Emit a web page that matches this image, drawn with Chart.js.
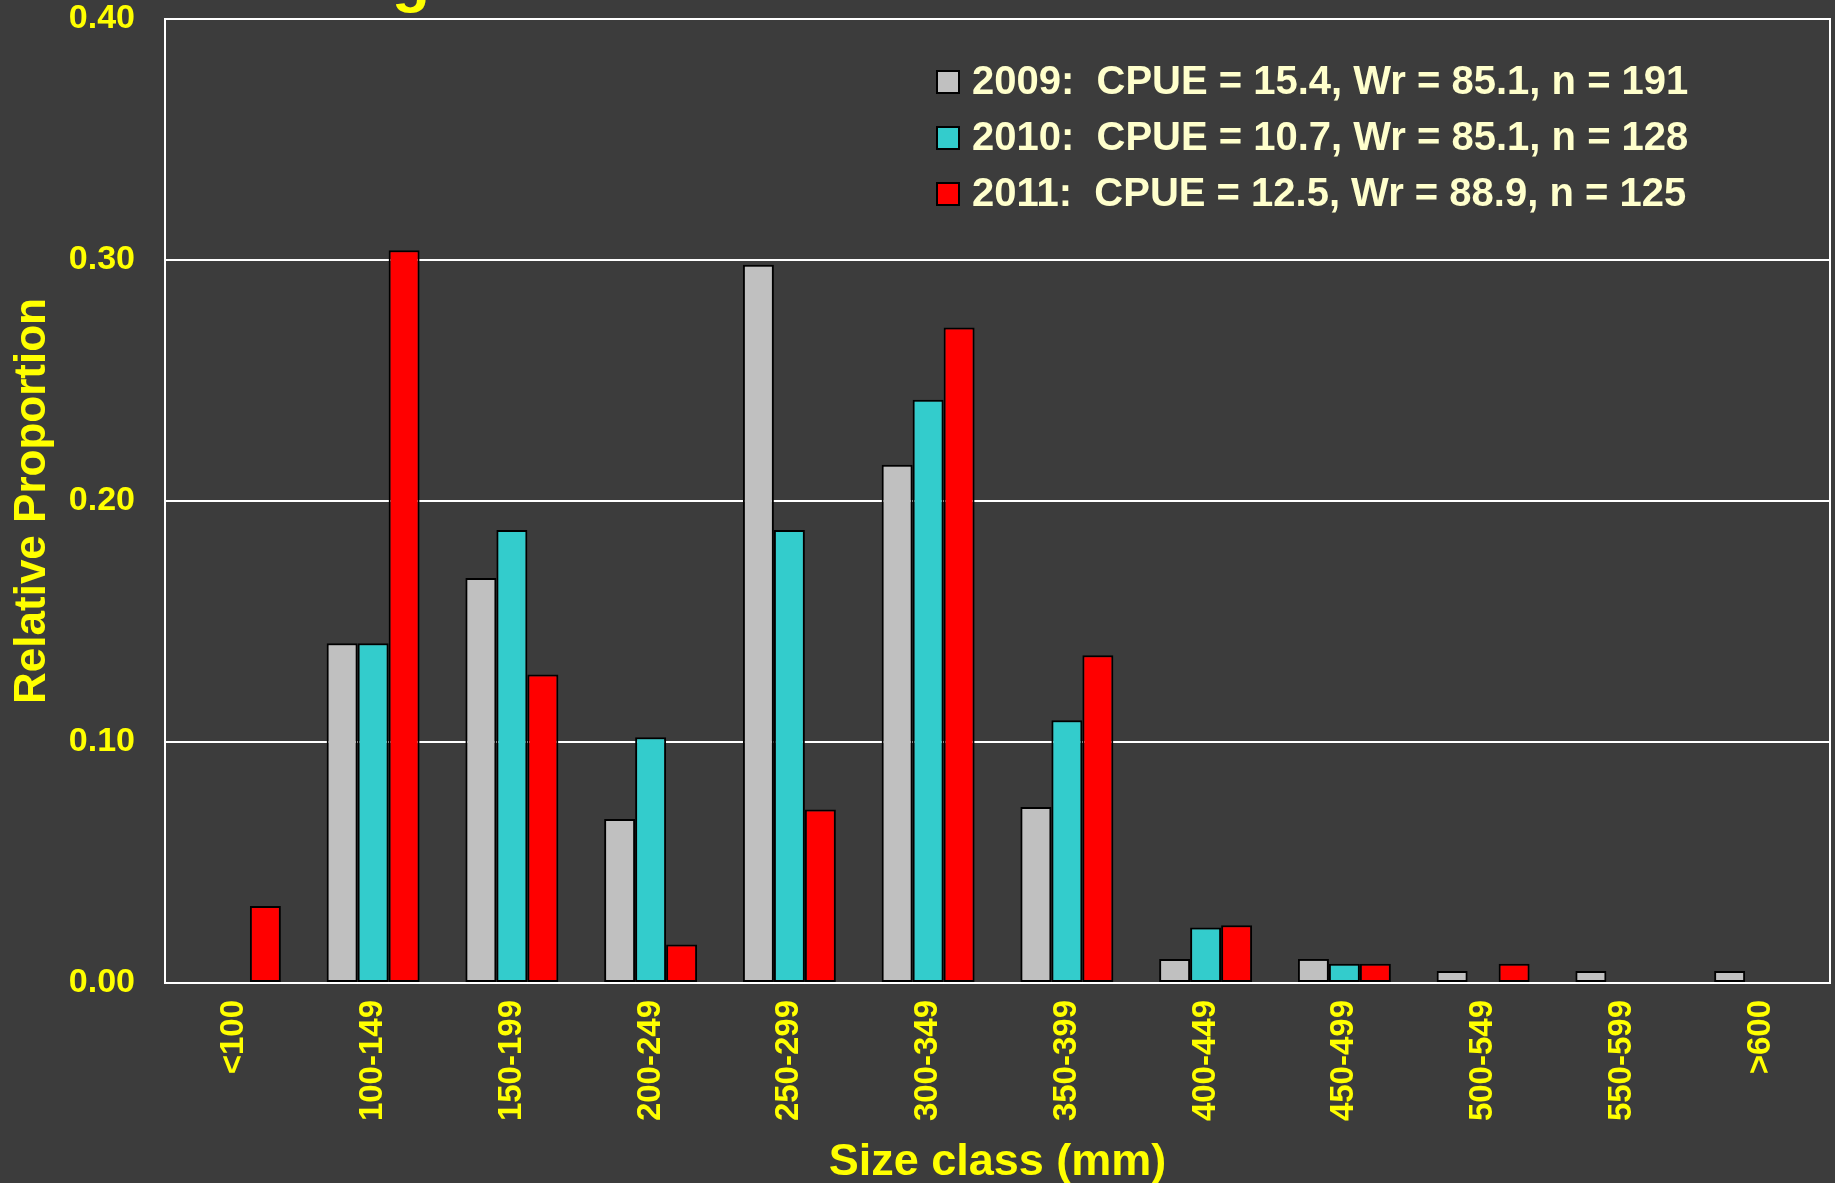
<!DOCTYPE html>
<html>
<head>
<meta charset="utf-8">
<script src="https://cdn.jsdelivr.net/npm/chart.js@4.4.1/dist/chart.umd.min.js"></script>
<style>
  html, body { margin: 0; padding: 0; background: #3c3c3c; }
  #wrap { width: 1835px; height: 1183px; position: relative; }
</style>
</head>
<body>
<div id="wrap"><canvas id="c"></canvas></div>
<script>
// size classes (mm)
var sizeClasses = ["<100", "100-149", "150-199", "200-249", "250-299", "300-349",
  "350-399", "400-449", "450-499", "500-549", "550-599", ">600"];

// relative proportion per size class
var prop2009 = [null, 0.141, 0.168, 0.068, 0.298, 0.215, 0.073, 0.010, 0.010, 0.005, 0.005, 0.005];
var prop2010 = [null, 0.141, 0.188, 0.102, 0.188, 0.242, 0.109, 0.023, 0.008, null, null, null];
var prop2011 = [0.032, 0.304, 0.128, 0.016, 0.072, 0.272, 0.136, 0.024, 0.008, 0.008, null, null];

var seriesLabels = [
  "2009:  CPUE = 15.4, Wr = 85.1, n = 191",
  "2010:  CPUE = 10.7, Wr = 85.1, n = 128",
  "2011:  CPUE = 12.5, Wr = 88.9, n = 125"
];
var yTicks = [0, 0.1, 0.2, 0.3, 0.4];

var FONT = "'Liberation Sans', Arial, sans-serif";
var YELLOW = "#ffff00";

// white frame round the plot, right side included
var framePlugin = {
  id: "frame",
  afterDatasetsDraw: function (chart) {
    var a = chart.chartArea, ctx = chart.ctx;
    ctx.save();
    ctx.strokeStyle = "#ffffff";
    ctx.lineWidth = 2;
    ctx.strokeRect(a.left, a.top, a.right - a.left, a.bottom - a.top);
    ctx.restore();
  }
};

// legend drawn inside the plot, top right
var boxLegend = {
  id: "boxLegend",
  afterDraw: function (chart) {
    var ctx = chart.ctx;
    ctx.save();
    ctx.font = "bold 40px " + FONT;
    ctx.textBaseline = "middle";
    chart.data.datasets.forEach(function (ds, i) {
      var cy = 82 + i * 56;
      ctx.fillStyle = ds.backgroundColor;
      ctx.strokeStyle = "#000000";
      ctx.lineWidth = 2;
      ctx.fillRect(937, cy - 11, 22, 22);
      ctx.strokeRect(937, cy - 11, 22, 22);
      ctx.fillStyle = "#ffffcc";
      ctx.fillText(ds.label, 972, cy + 1);
    });
    // what is left of the title, cut by the top edge
    ctx.fillStyle = YELLOW;
    ctx.font = "bold 62px " + FONT;
    ctx.textBaseline = "alphabetic";
    ctx.fillText("g", 392, 0);
    ctx.restore();
  }
};

var ctx = document.getElementById("c");
new Chart(ctx, {
  type: "bar",
  data: {
    labels: sizeClasses,
    datasets: [
      { label: seriesLabels[0], data: prop2009, backgroundColor: "#c0c0c0" },
      { label: seriesLabels[1], data: prop2010, backgroundColor: "#33cccc" },
      { label: seriesLabels[2], data: prop2011, backgroundColor: "#ff0000" }
    ]
  },
  options: {
    responsive: true,
    maintainAspectRatio: false,
    animation: false,
    layout: { padding: { top: 19, right: 5, left: 0, bottom: 0 } },
    datasets: {
      bar: {
        borderColor: "#000000",
        borderWidth: 2,
        borderSkipped: false,
        categoryPercentage: 0.67,
        barPercentage: 1.0
      }
    },
    plugins: {
      legend: { display: false },
      tooltip: { enabled: false }
    },
    scales: {
      x: {
        grid: { display: false, drawTicks: false },
        border: { display: true, color: "#ffffff", width: 2 },
        afterFit: function (s) { s.height = 200; },
        ticks: {
          color: YELLOW,
          font: { family: FONT, size: 33, weight: "bold" },
          minRotation: 90,
          maxRotation: 90,
          autoSkip: false,
          padding: 17
        },
        title: {
          display: true,
          text: "Size class (mm)",
          color: YELLOW,
          font: { family: FONT, size: 45, weight: "bold", lineHeight: 0.9 },
          padding: 0
        }
      },
      y: {
        min: 0,
        max: 0.4,
        afterFit: function (s) { s.width = 165; },
        afterBuildTicks: function (s) {
          s.ticks = yTicks.map(function (v) { return { value: v }; });
        },
        // invisible tick marks keep the labels away from the axis
        grid: { color: "#ffffff", lineWidth: 2, drawTicks: true, tickLength: 30, tickColor: "rgba(0,0,0,0)" },
        border: { display: true, color: "#ffffff", width: 2 },
        ticks: {
          color: YELLOW,
          font: { family: FONT, size: 34, weight: "bold", lineHeight: 1.0 },
          padding: 0,
          callback: function (v) { return v.toFixed(2); }
        },
        title: {
          display: true,
          text: "Relative Proportion",
          color: YELLOW,
          font: { family: FONT, size: 44, weight: "bold" },
          padding: { top: 6, bottom: 0 }
        }
      }
    }
  },
  plugins: [framePlugin, boxLegend]
});
</script>
</body>
</html>
